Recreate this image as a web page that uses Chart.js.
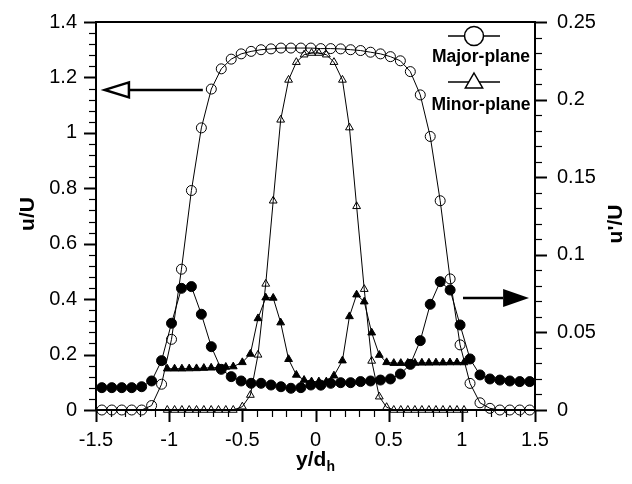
<!DOCTYPE html>
<html>
<head>
<meta charset="utf-8">
<script src="https://cdn.jsdelivr.net/npm/chart.js@4.4.1/dist/chart.umd.min.js"></script>
<style>
    html, body { margin: 0; padding: 0; background: #fff; }
</style>
</head>
<body>
<canvas id="chart-profiles" width="632" height="484"></canvas>
<script>
// major-plane traverse (y/d_h) with mean u/U and rms u'/U
const majorPos = [-1.46, -1.392, -1.324, -1.256, -1.188, -1.12, -1.052, -0.984, -0.916, -0.848, -0.78,
    -0.712, -0.644, -0.576, -0.508, -0.44, -0.372, -0.304, -0.236, -0.168, -0.1, -0.032, 0.036, 0.104,
    0.172, 0.24, 0.308, 0.376, 0.444, 0.512, 0.58, 0.648, 0.716, 0.784, 0.852, 0.92, 0.988, 1.056,
    1.124, 1.192, 1.26, 1.328, 1.396, 1.464];
const majorMean = [0, 0, 0, 0, 0, 0.016, 0.093, 0.255, 0.508, 0.792, 1.018, 1.158, 1.231, 1.266, 1.285,
    1.294, 1.3, 1.303, 1.306, 1.306, 1.306, 1.306, 1.304, 1.304, 1.303, 1.3, 1.297, 1.291, 1.285, 1.275,
    1.26, 1.221, 1.137, 0.987, 0.755, 0.473, 0.235, 0.096, 0.026, 0.006, 0, 0, 0, 0];
const majorRms = [0.0144, 0.0144, 0.0144, 0.0144, 0.015, 0.0187, 0.0318, 0.0559, 0.0784, 0.0795, 0.0617,
    0.0408, 0.0262, 0.0215, 0.0187, 0.0172, 0.0172, 0.0161, 0.015, 0.014, 0.0144, 0.0161, 0.016, 0.0172,
    0.0176, 0.0176, 0.0183, 0.0187, 0.0193, 0.02, 0.0232, 0.0294, 0.0447, 0.0681, 0.0827, 0.0773, 0.0548,
    0.0329, 0.0226, 0.02, 0.0193, 0.0187, 0.0183, 0.0183];

// minor-plane traverse
const minorPos = [-1.013, -0.963, -0.913, -0.863, -0.813, -0.763, -0.713, -0.663, -0.613, -0.562, -0.5,
    -0.445, -0.393, -0.34, -0.289, -0.238, -0.184, -0.131, -0.078, -0.027, 0.023, 0.074, 0.126, 0.184,
    0.232, 0.281, 0.333, 0.384, 0.436, 0.486, 0.535, 0.583, 0.631, 0.679, 0.727, 0.775, 0.823, 0.871,
    0.919, 0.967, 1.015];
const minorMean = [0, 0, 0, 0, 0, 0, 0, 0, 0, 0, 0.012, 0.054, 0.199, 0.455, 0.755, 1.047, 1.191, 1.255,
    1.282, 1.288, 1.288, 1.282, 1.255, 1.191, 1.019, 0.735, 0.436, 0.177, 0.048, 0.01, 0, 0, 0, 0, 0, 0,
    0, 0, 0, 0, 0];
const minorRms = [0.0266, 0.0266, 0.0266, 0.0267, 0.0268, 0.027, 0.0272, 0.0274, 0.0277, 0.028, 0.0307,
    0.0361, 0.059, 0.0724, 0.0722, 0.0563, 0.0327, 0.0226, 0.0193, 0.0183, 0.0183, 0.0183, 0.0221, 0.0318,
    0.0603, 0.0743, 0.0698, 0.0498, 0.0354, 0.0307, 0.0302, 0.0302, 0.0303, 0.0303, 0.0304, 0.0304,
    0.0305, 0.0305, 0.0306, 0.0306, 0.0306];

const seriesNames = ['Major-plane', 'Minor-plane'];

// labelled (major) ticks; the minor ones come from the step sizes
const xTickLabels = [-1.5, -1, -0.5, 0, 0.5, 1, 1.5];
const meanTickLabels = [0, 0.2, 0.4, 0.6, 0.8, 1, 1.2, 1.4];
const rmsTickLabels = [0, 0.05, 0.1, 0.15, 0.2, 0.25];

const FONT = 'Liberation Sans, Arial, sans-serif';

const toPoints = (xs, ys) => xs.map((x, i) => ({x: x, y: ys[i]}));
const labelFor = (list) => (v) => {
    const hit = list.find(m => Math.abs(m - v) < 1e-6);
    return hit === undefined ? '' : String(hit);
};

// fixed axis box; the label overhang padding is dropped so the frame sits where we want it
const fixWidth = (w) => (s) => {
    s.width = w;
    s.paddingTop = 0;
    s.paddingBottom = 0;
};

function series(label, xs, ys, axis, style, filled, radius) {
    return {
        label: label,
        data: toPoints(xs, ys),
        yAxisID: axis,
        borderColor: '#000',
        borderWidth: 1,
        pointStyle: style,
        pointRadius: radius,
        pointBorderWidth: 1,
        pointBorderColor: '#000',
        pointBackgroundColor: filled ? '#000' : 'rgba(0,0,0,0)',
        showLine: true,
        tension: 0,
        clip: false
    };
}

// tick marks drawn outward with two lengths, plus the closed frame
const axisFrame = {
    id: 'axisFrame',
    afterDraw(chart) {
        const {ctx, chartArea: a} = chart;
        ctx.save();
        ctx.strokeStyle = '#000';
        ctx.lineWidth = 2;
        ctx.strokeRect(a.left, a.top, a.right - a.left, a.bottom - a.top);
        ['x', 'y', 'y2'].forEach(id => {
            const s = chart.scales[id];
            s.ticks.forEach(t => {
                const major = t.label !== '';
                const len = major ? 12 : 7;
                const p = Math.round(s.getPixelForValue(t.value)) + 0.5;
                ctx.lineWidth = major ? 2 : 1.2;
                ctx.beginPath();
                if (id === 'x') {
                    ctx.moveTo(p, a.bottom);
                    ctx.lineTo(p, a.bottom + len);
                } else if (id === 'y') {
                    ctx.moveTo(a.left, p);
                    ctx.lineTo(a.left - len, p);
                } else {
                    ctx.moveTo(a.right, p);
                    ctx.lineTo(a.right + len, p);
                }
                ctx.stroke();
            });
        });
        ctx.restore();
    }
};

function triangle(ctx, x, y, r) {
    ctx.beginPath();
    ctx.moveTo(x, y - r);
    ctx.lineTo(x + r * 0.866, y + r * 0.5);
    ctx.lineTo(x - r * 0.866, y + r * 0.5);
    ctx.closePath();
}

// axis titles, the two pointer arrows and the stacked legend
const annotations = {
    id: 'annotations',
    afterDraw(chart) {
        const {ctx, chartArea: a, scales} = chart;
        ctx.save();
        ctx.fillStyle = '#000';
        ctx.strokeStyle = '#000';

        // axis titles
        ctx.font = 'bold 21px ' + FONT;
        ctx.textAlign = 'center';
        ctx.textBaseline = 'middle';
        ctx.save();
        ctx.translate(28, (a.top + a.bottom) / 2 - 2);
        ctx.rotate(-Math.PI / 2);
        ctx.fillText('u/U', 0, 0);
        ctx.restore();
        ctx.save();
        ctx.translate(616, (a.top + a.bottom) / 2 + 8);
        ctx.rotate(-Math.PI / 2);
        ctx.fillText("u'/U", 0, 0);
        ctx.restore();

        ctx.textAlign = 'left';
        ctx.font = 'bold 21px ' + FONT;
        const main = 'y/d';
        const wMain = ctx.measureText(main).width;
        ctx.font = 'bold 14px ' + FONT;
        const wSub = ctx.measureText('h').width;
        const cx = (a.left + a.right) / 2;
        const x0 = cx - (wMain + wSub) / 2;
        ctx.font = 'bold 21px ' + FONT;
        ctx.fillText(main, x0, 460);
        ctx.font = 'bold 14px ' + FONT;
        ctx.fillText('h', x0 + wMain, 467);

        // arrow to the left axis (mean velocity)
        const xs = scales.x, yl = scales.y, yr = scales.y2;
        const ly = yl.getPixelForValue(1.155);
        const lTail = xs.getPixelForValue(-0.77);
        const lBase = xs.getPixelForValue(-1.275);
        const lTip = xs.getPixelForValue(-1.44);
        ctx.lineWidth = 2.5;
        ctx.beginPath();
        ctx.moveTo(lTail, ly);
        ctx.lineTo(lBase, ly);
        ctx.stroke();
        ctx.beginPath();
        ctx.moveTo(lTip, ly);
        ctx.lineTo(lBase, ly - 7.5);
        ctx.lineTo(lBase, ly + 7.5);
        ctx.closePath();
        ctx.fillStyle = '#fff';
        ctx.fill();
        ctx.stroke();

        // arrow to the right axis (rms)
        const ry = yr.getPixelForValue(0.0722);
        const rTail = xs.getPixelForValue(1.008);
        const rBase = xs.getPixelForValue(1.282);
        const rTip = xs.getPixelForValue(1.459);
        ctx.beginPath();
        ctx.moveTo(rTail, ry);
        ctx.lineTo(rBase, ry);
        ctx.stroke();
        ctx.fillStyle = '#000';
        ctx.beginPath();
        ctx.moveTo(rTip, ry);
        ctx.lineTo(rBase, ry - 9);
        ctx.lineTo(rBase, ry + 9);
        ctx.closePath();
        ctx.fill();

        // legend: symbol on a short line, name underneath
        const lx = a.right - 61;
        const rows = [{y: a.top + 14, style: 'circle'}, {y: a.top + 60, style: 'triangle'}];
        ctx.font = 'bold 17.5px ' + FONT;
        ctx.textAlign = 'center';
        ctx.lineWidth = 1.5;
        rows.forEach((row, i) => {
            ctx.beginPath();
            ctx.moveTo(lx - 26, row.y);
            ctx.lineTo(lx + 26, row.y);
            ctx.stroke();
            ctx.fillStyle = '#fff';
            if (row.style === 'circle') {
                ctx.beginPath();
                ctx.arc(lx, row.y, 9.5, 0, Math.PI * 2);
            } else {
                triangle(ctx, lx, row.y + 1, 10);
            }
            ctx.fill();
            ctx.stroke();
            ctx.fillStyle = '#000';
            ctx.fillText(chart.data.datasets[i].label, lx + 7, row.y + 21 + i * 2);
        });
        ctx.restore();
    }
};

const ctx = document.getElementById('chart-profiles');
new Chart(ctx, {
    type: 'line',
    data: {
        datasets: [
            series(seriesNames[0], majorPos, majorMean, 'y', 'circle', false, 5),
            series(seriesNames[1], minorPos, minorMean, 'y', 'triangle', false, 4.5),
            series(seriesNames[0] + ' rms', majorPos, majorRms, 'y2', 'circle', true, 5),
            series(seriesNames[1] + ' rms', minorPos, minorRms, 'y2', 'triangle', true, 4.5)
        ]
    },
    options: {
        responsive: false,
        animation: false,
        devicePixelRatio: 1,
        layout: {padding: {top: 22, left: 0, right: 0, bottom: 0}},
        plugins: {legend: {display: false}, tooltip: {enabled: false}},
        scales: {
            x: {
                type: 'linear',
                min: -1.5, max: 1.5,
                grid: {display: false, drawTicks: false},
                border: {display: false},
                ticks: {
                    stepSize: 0.1, autoSkip: false, maxRotation: 0, padding: 18,
                    color: '#000', font: {family: FONT, size: 20},
                    callback: labelFor(xTickLabels)
                },
                afterFit: s => { s.height = 74; }
            },
            y: {
                position: 'left',
                min: 0, max: 1.4,
                grid: {display: false, drawTicks: false},
                border: {display: false},
                ticks: {
                    stepSize: 0.04, autoSkip: false, padding: 19,
                    color: '#000', font: {family: FONT, size: 20},
                    callback: labelFor(meanTickLabels)
                },
                afterFit: fixWidth(96)
            },
            y2: {
                position: 'right',
                min: 0, max: 0.25,
                grid: {display: false, drawTicks: false},
                border: {display: false},
                ticks: {
                    stepSize: 0.01, autoSkip: false, padding: 22,
                    color: '#000', font: {family: FONT, size: 20},
                    callback: labelFor(rmsTickLabels)
                },
                afterFit: fixWidth(97)
            }
        }
    },
    plugins: [axisFrame, annotations]
});
</script>
</body>
</html>
